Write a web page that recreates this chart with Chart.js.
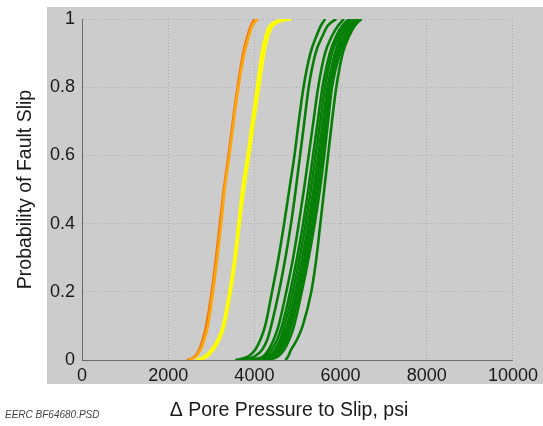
<!DOCTYPE html>
<html>
<head>
<meta charset="utf-8">
<script src="https://cdn.jsdelivr.net/npm/chart.js@4/dist/chart.umd.min.js"></script>
<style>
  html, body { margin: 0; padding: 0; background: #ffffff; }
  #wrap { width: 543px; height: 426px; position: relative; }
</style>
</head>
<body>
<div id="wrap"><canvas id="c" width="543" height="426"></canvas></div>
<script>
// ---- data ----
const probLevels = [0, 0.01, 0.03, 0.06, 0.1, 0.2, 0.3, 0.4, 0.5, 0.6, 0.7, 0.8, 0.9, 0.95, 0.98, 1];

const orangeLight = [2470, 2640, 2750, 2840, 2920, 3040, 3140, 3230, 3310, 3420, 3520, 3630, 3770, 3870, 3950, 4080];
const orangeDark  = [2440, 2610, 2720, 2800, 2880, 3010, 3110, 3200, 3290, 3400, 3500, 3610, 3740, 3840, 3920, 4000];

const yellow1 = [2650, 2840, 3000, 3150, 3270, 3420, 3540, 3630, 3720, 3840, 3950, 4060, 4170, 4260, 4360, 4700];
const yellow2 = [2690, 2870, 3030, 3170, 3285, 3435, 3555, 3645, 3740, 3860, 3970, 4085, 4200, 4290, 4400, 4780];
const yellow3 = [2720, 2900, 3050, 3190, 3300, 3450, 3570, 3660, 3760, 3880, 3990, 4110, 4230, 4320, 4430, 4860];

const green1  = [3560, 3850, 4020, 4140, 4250, 4410, 4560, 4690, 4810, 4930, 5030, 5140, 5300, 5440, 5540, 5640];
const green2  = [3700, 4000, 4180, 4300, 4390, 4570, 4720, 4850, 4960, 5060, 5160, 5260, 5420, 5580, 5700, 5900];
const green3  = [3900, 4200, 4330, 4450, 4560, 4740, 4900, 5030, 5150, 5260, 5370, 5480, 5640, 5800, 5940, 6080];
const green4  = [3950, 4250, 4400, 4530, 4640, 4830, 4990, 5130, 5250, 5360, 5470, 5580, 5750, 5900, 6040, 6200];
const green5  = [4050, 4330, 4480, 4600, 4700, 4890, 5050, 5190, 5310, 5420, 5530, 5640, 5800, 5960, 6100, 6250];
const green6  = [4100, 4380, 4530, 4650, 4760, 4950, 5110, 5250, 5370, 5480, 5590, 5700, 5870, 6020, 6160, 6320];
const green7  = [4150, 4420, 4580, 4700, 4810, 5000, 5160, 5300, 5420, 5530, 5640, 5740, 5920, 6080, 6220, 6380];
const green8  = [4200, 4480, 4630, 4750, 4860, 5050, 5210, 5350, 5470, 5580, 5680, 5780, 5960, 6130, 6270, 6420];
const green9  = [4300, 4540, 4690, 4810, 4920, 5100, 5260, 5400, 5520, 5620, 5710, 5800, 5990, 6170, 6300, 6460];
const green10 = [4720, 4780, 4850, 4990, 5120, 5320, 5440, 5530, 5620, 5710, 5800, 5900, 6050, 6200, 6330, 6480];

const xTickLabels = ['0', '2000', '4000', '6000', '8000', '10000'];
const yTickLabels = ['0', '0.2', '0.4', '0.6', '0.8', '1'];
const xTitle = '\u0394 Pore Pressure to Slip, psi';
const yTitle = 'Probability of Fault Slip';
const footnote = 'EERC BF64680.PSD';

// ---- build datasets ----
const seriesDefs = [
  { name: 'orangeLight', xs: orangeLight, color: '#fba60c' },
  { name: 'orangeDark',  xs: orangeDark,  color: '#f27812' },
  { name: 'yellow1', xs: yellow1, color: '#ffff00' },
  { name: 'yellow2', xs: yellow2, color: '#f6f600' },
  { name: 'yellow3', xs: yellow3, color: '#ffff10' },
  { name: 'green1', xs: green1, color: '#067f06' },
  { name: 'green2', xs: green2, color: '#067f06' },
  { name: 'green3', xs: green3, color: '#067f06' },
  { name: 'green4', xs: green4, color: '#067f06' },
  { name: 'green5', xs: green5, color: '#067f06' },
  { name: 'green6', xs: green6, color: '#067f06' },
  { name: 'green7', xs: green7, color: '#067f06' },
  { name: 'green8', xs: green8, color: '#067f06' },
  { name: 'green9', xs: green9, color: '#067f06' },
  { name: 'green10', xs: green10, color: '#067f06' }
];

const datasets = seriesDefs.map(s => ({
  label: s.name,
  data: s.xs.map((x, i) => ({ x: x, y: probLevels[i] })),
  showLine: true,
  borderColor: s.color,
  backgroundColor: s.color,
  borderWidth: 2.6,
  pointRadius: 0,
  cubicInterpolationMode: 'monotone',
  fill: false
}));

const FONT = 'Liberation Sans, Arial, Helvetica, sans-serif';

const bgPlugin = {
  id: 'bg',
  beforeDraw(chart) {
    const ctx = chart.ctx;
    ctx.save();
    ctx.fillStyle = '#ffffff';
    ctx.fillRect(0, 0, chart.width, chart.height);
    ctx.fillStyle = '#cccccc';
    ctx.fillRect(47, 7, chart.width - 47, 377);
    ctx.restore();
  },
  afterDraw(chart) {
    const ctx = chart.ctx;
    ctx.save();
    ctx.fillStyle = '#1a1a1a';
    ctx.font = '19.5px ' + FONT;
    ctx.textAlign = 'center';
    ctx.textBaseline = 'middle';
    ctx.fillText(xTitle, 289, 411);
    ctx.fillStyle = '#444444';
    ctx.font = 'italic 10px ' + FONT;
    ctx.textAlign = 'left';
    ctx.fillText(footnote, 5, 415);
    ctx.restore();
  }
};

new Chart(document.getElementById('c'), {
  type: 'scatter',
  data: { datasets: datasets },
  plugins: [bgPlugin],
  options: {
    responsive: false,
    animation: false,
    events: [],
    layout: { padding: { left: 0, right: 27, top: 19, bottom: 0 } },
    plugins: { legend: { display: false }, tooltip: { enabled: false } },
    scales: {
      x: {
        type: 'linear',
        min: 0, max: 10000,
        afterFit(scale) { scale.height = 66; },
        ticks: {
          stepSize: 2000,
          color: '#1a1a1a',
          font: { family: FONT, size: 18 },
          padding: 5,
          maxRotation: 0,
          callback: (v) => xTickLabels[Math.round(v / 2000)]
        },
        grid: { color: '#acacac', lineWidth: 1, drawTicks: false },
        border: { display: true, color: '#6a6a6a', width: 1, dash: [1, 2] },
        title: { display: false }
      },
      y: {
        type: 'linear',
        min: 0, max: 1,
        afterFit(scale) { scale.width = 82; },
        ticks: {
          stepSize: 0.2,
          color: '#1a1a1a',
          font: { family: FONT, size: 18 },
          padding: 7,
          callback: (v) => yTickLabels[Math.round(v / 0.2)]
        },
        grid: { color: '#acacac', lineWidth: 1, drawTicks: false },
        border: { display: true, color: '#6a6a6a', width: 1, dash: [1, 2] },
        title: {
          display: true,
          text: yTitle,
          color: '#1a1a1a',
          font: { family: FONT, size: 19.5 },
          padding: { top: 14, bottom: 0 }
        }
      }
    }
  }
});
</script>
</body>
</html>
